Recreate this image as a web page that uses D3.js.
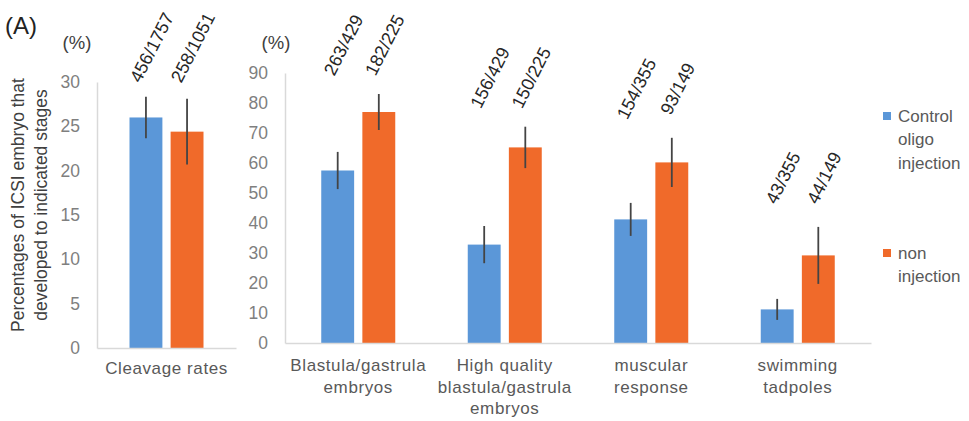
<!DOCTYPE html>
<html>
<head>
<meta charset="utf-8">
<script src="https://cdn.jsdelivr.net/npm/d3@7"></script>
<style>
body { margin: 0; background: #fff; }
</style>
</head>
<body>
<div id="chart"></div>
<script>
const width = 969
const height = 421
const font = "'Liberation Sans', Arial, sans-serif"

// series
const seriesNames = ["Control oligo injection", "non injection"]
const colors = ["#5b97d8", "#f06a2a"]

// left panel: cleavage
const leftCategories = ["Cleavage rates"]
const leftControl = [26.0]
const leftControlErr = [2.35]
const leftNon = [24.4]
const leftNonErr = [3.7]
const leftControlN = ["456/1757"]
const leftNonN = ["258/1051"]
const leftTicks = [0, 5, 10, 15, 20, 25, 30]

// right panel: later stages
const rightCategories = ["Blastula/gastrula embryos", "High quality blastula/gastrula embryos", "muscular response", "swimming tadpoles"]
const rightControl = [57.5, 32.8, 41.2, 11.2]
const rightControlErr = [6.2, 6.2, 5.5, 3.5]
const rightNon = [77.0, 65.2, 60.2, 29.2]
const rightNonErr = [6.0, 6.9, 8.2, 9.5]
const rightControlN = ["263/429", "156/429", "154/355", "43/355"]
const rightNonN = ["182/225", "150/225", "93/149", "44/149"]
const rightTicks = [0, 10, 20, 30, 40, 50, 60, 70, 80, 90]

const svg = d3.select("#chart").append("svg")
    .attr("width", width).attr("height", height)
    .style("font-family", font)

function drawPanel(p) {
    const x0 = d3.scaleBand().domain(p.categories).range(p.xRange)
    const off = (x0.bandwidth() - 74) / 2
    const x1 = d3.scaleBand().domain(d3.range(seriesNames.length)).range([off, off + 74]).paddingInner(0.2)
    const y = d3.scaleLinear().domain([0, d3.max(p.ticks)]).range(p.yRange)

    const rows = p.categories.flatMap((c, i) => seriesNames.map((s, j) => ({
        cat: c, s: j, v: p.values[j][i], e: p.errs[j][i], n: p.ns[j][i],
        top: d3.max(p.values.map((vals, k) => vals[i] + p.errs[k][i]))
    })))

    const g = svg.append("g")

    // bars
    g.selectAll("rect").data(rows).join("rect")
        .attr("x", d => x0(d.cat) + x1(d.s))
        .attr("y", d => y(d.v))
        .attr("width", x1.bandwidth())
        .attr("height", d => y(0) - y(d.v))
        .attr("fill", d => colors[d.s])

    // error bars (no caps)
    g.selectAll("line.err").data(rows).join("line")
        .attr("class", "err")
        .attr("x1", d => x0(d.cat) + x1(d.s) + x1.bandwidth() / 2)
        .attr("x2", d => x0(d.cat) + x1(d.s) + x1.bandwidth() / 2)
        .attr("y1", d => y(d.v + d.e))
        .attr("y2", d => y(d.v - d.e))
        .attr("stroke", "#444")
        .attr("stroke-width", 1.8)

    // n labels, rotated
    g.selectAll("text.n").data(rows).join("text")
        .attr("class", "n")
        .attr("text-anchor", "middle")
        .attr("dominant-baseline", "central")
        .attr("font-size", 18)
        .attr("fill", "#262626")
        .attr("transform", d => {
            const cx = x0(d.cat) + x1(d.s) + x1.bandwidth() / 2 + 6
            const cy = y(d.top) - 49
            return `translate(${cx},${cy}) rotate(-63)`
        })
        .text(d => d.n)

    // y axis
    g.append("g")
        .attr("transform", `translate(${p.xRange[0]},0)`)
        .call(d3.axisLeft(y).tickValues(p.ticks).tickSize(0).tickPadding(17))
        .attr("font-family", font).attr("font-size", 17.5)
        .call(a => a.select(".domain").attr("stroke", "#d9d9d9").attr("stroke-width", 1.5))
        .call(a => a.selectAll("text").attr("fill", "#7f7f7f"))

    // x axis
    g.append("g")
        .attr("transform", `translate(0,${p.yRange[0]})`)
        .call(d3.axisBottom(x0).tickSize(0).tickPadding(p.labelPad))
        .attr("font-family", font).attr("font-size", 17)
        .call(a => a.select(".domain").attr("stroke", "#d9d9d9").attr("stroke-width", 1.5))
        .call(a => a.selectAll("text").attr("fill", "#595959").style("letter-spacing", "0.6px").call(wrap, 142))

    // unit
    g.append("text")
        .attr("x", p.unitX).attr("y", 42)
        .attr("text-anchor", "middle").attr("dominant-baseline", "central")
        .attr("font-size", 18.5).attr("fill", "#404040")
        .text("(%)")
}

function wrap(texts, w) {
    texts.each(function() {
        const text = d3.select(this)
        const words = text.text().split(/\s+/)
        const dy = parseFloat(text.attr("dy"))
        const yy = text.attr("y")
        text.text(null)
        let line = []
        let lineNo = 0
        let tspan = text.append("tspan").attr("x", 0).attr("y", yy).attr("dy", dy + "em")
        words.forEach(word => {
            line.push(word)
            tspan.text(line.join(" "))
            if (tspan.node().getComputedTextLength() > w && line.length > 1) {
                line.pop()
                tspan.text(line.join(" "))
                line = [word]
                lineNo++
                tspan = text.append("tspan").attr("x", 0).attr("y", yy)
                    .attr("dy", (lineNo * 1.27 + dy) + "em").text(word)
            }
        })
    })
}

drawPanel({
    categories: leftCategories,
    values: [leftControl, leftNon],
    errs: [leftControlErr, leftNonErr],
    ns: [leftControlN, leftNonN],
    ticks: leftTicks,
    xRange: [97, 236],
    yRange: [348, 82],
    labelPad: 14,
    unitX: 77
})

drawPanel({
    categories: rightCategories,
    values: [rightControl, rightNon],
    errs: [rightControlErr, rightNonErr],
    ns: [rightControlN, rightNonN],
    ticks: rightTicks,
    xRange: [285, 871],
    yRange: [343, 73],
    labelPad: 16,
    unitX: 276
})

// y title
const yTitle = ["Percentages of ICSI embryo that", "developed to indicated stages"]
svg.selectAll("text.ytitle").data(yTitle).join("text")
    .attr("class", "ytitle")
    .attr("text-anchor", "middle")
    .attr("dominant-baseline", "central")
    .attr("font-size", 17.5)
    .attr("fill", "#404040")
    .attr("transform", (d, i) => `translate(${18 + i * 23},205) rotate(-90)`)
    .text(d => d)

// panel tag
svg.append("text")
    .attr("x", 5).attr("y", 25)
    .attr("dominant-baseline", "central")
    .attr("font-size", 24).attr("fill", "#222")
    .text("(A)")

// legend
const legendTop = [112, 249]
const legend = svg.selectAll("g.legend").data(seriesNames).join("g")
    .attr("class", "legend")
    .attr("transform", (d, i) => `translate(883,${legendTop[i]})`)
legend.append("rect")
    .attr("width", 8).attr("height", 8)
    .attr("fill", (d, i) => colors[i])
legend.each(function(d) {
    d3.select(this).selectAll("text").data(d.split(" ")).join("text")
        .attr("x", 15)
        .attr("y", (w, k) => 4 + k * 23.5)
        .attr("dominant-baseline", "central")
        .attr("font-size", 17)
        .attr("fill", "#595959")
        .text(w => w)
})
</script>
</body>
</html>
